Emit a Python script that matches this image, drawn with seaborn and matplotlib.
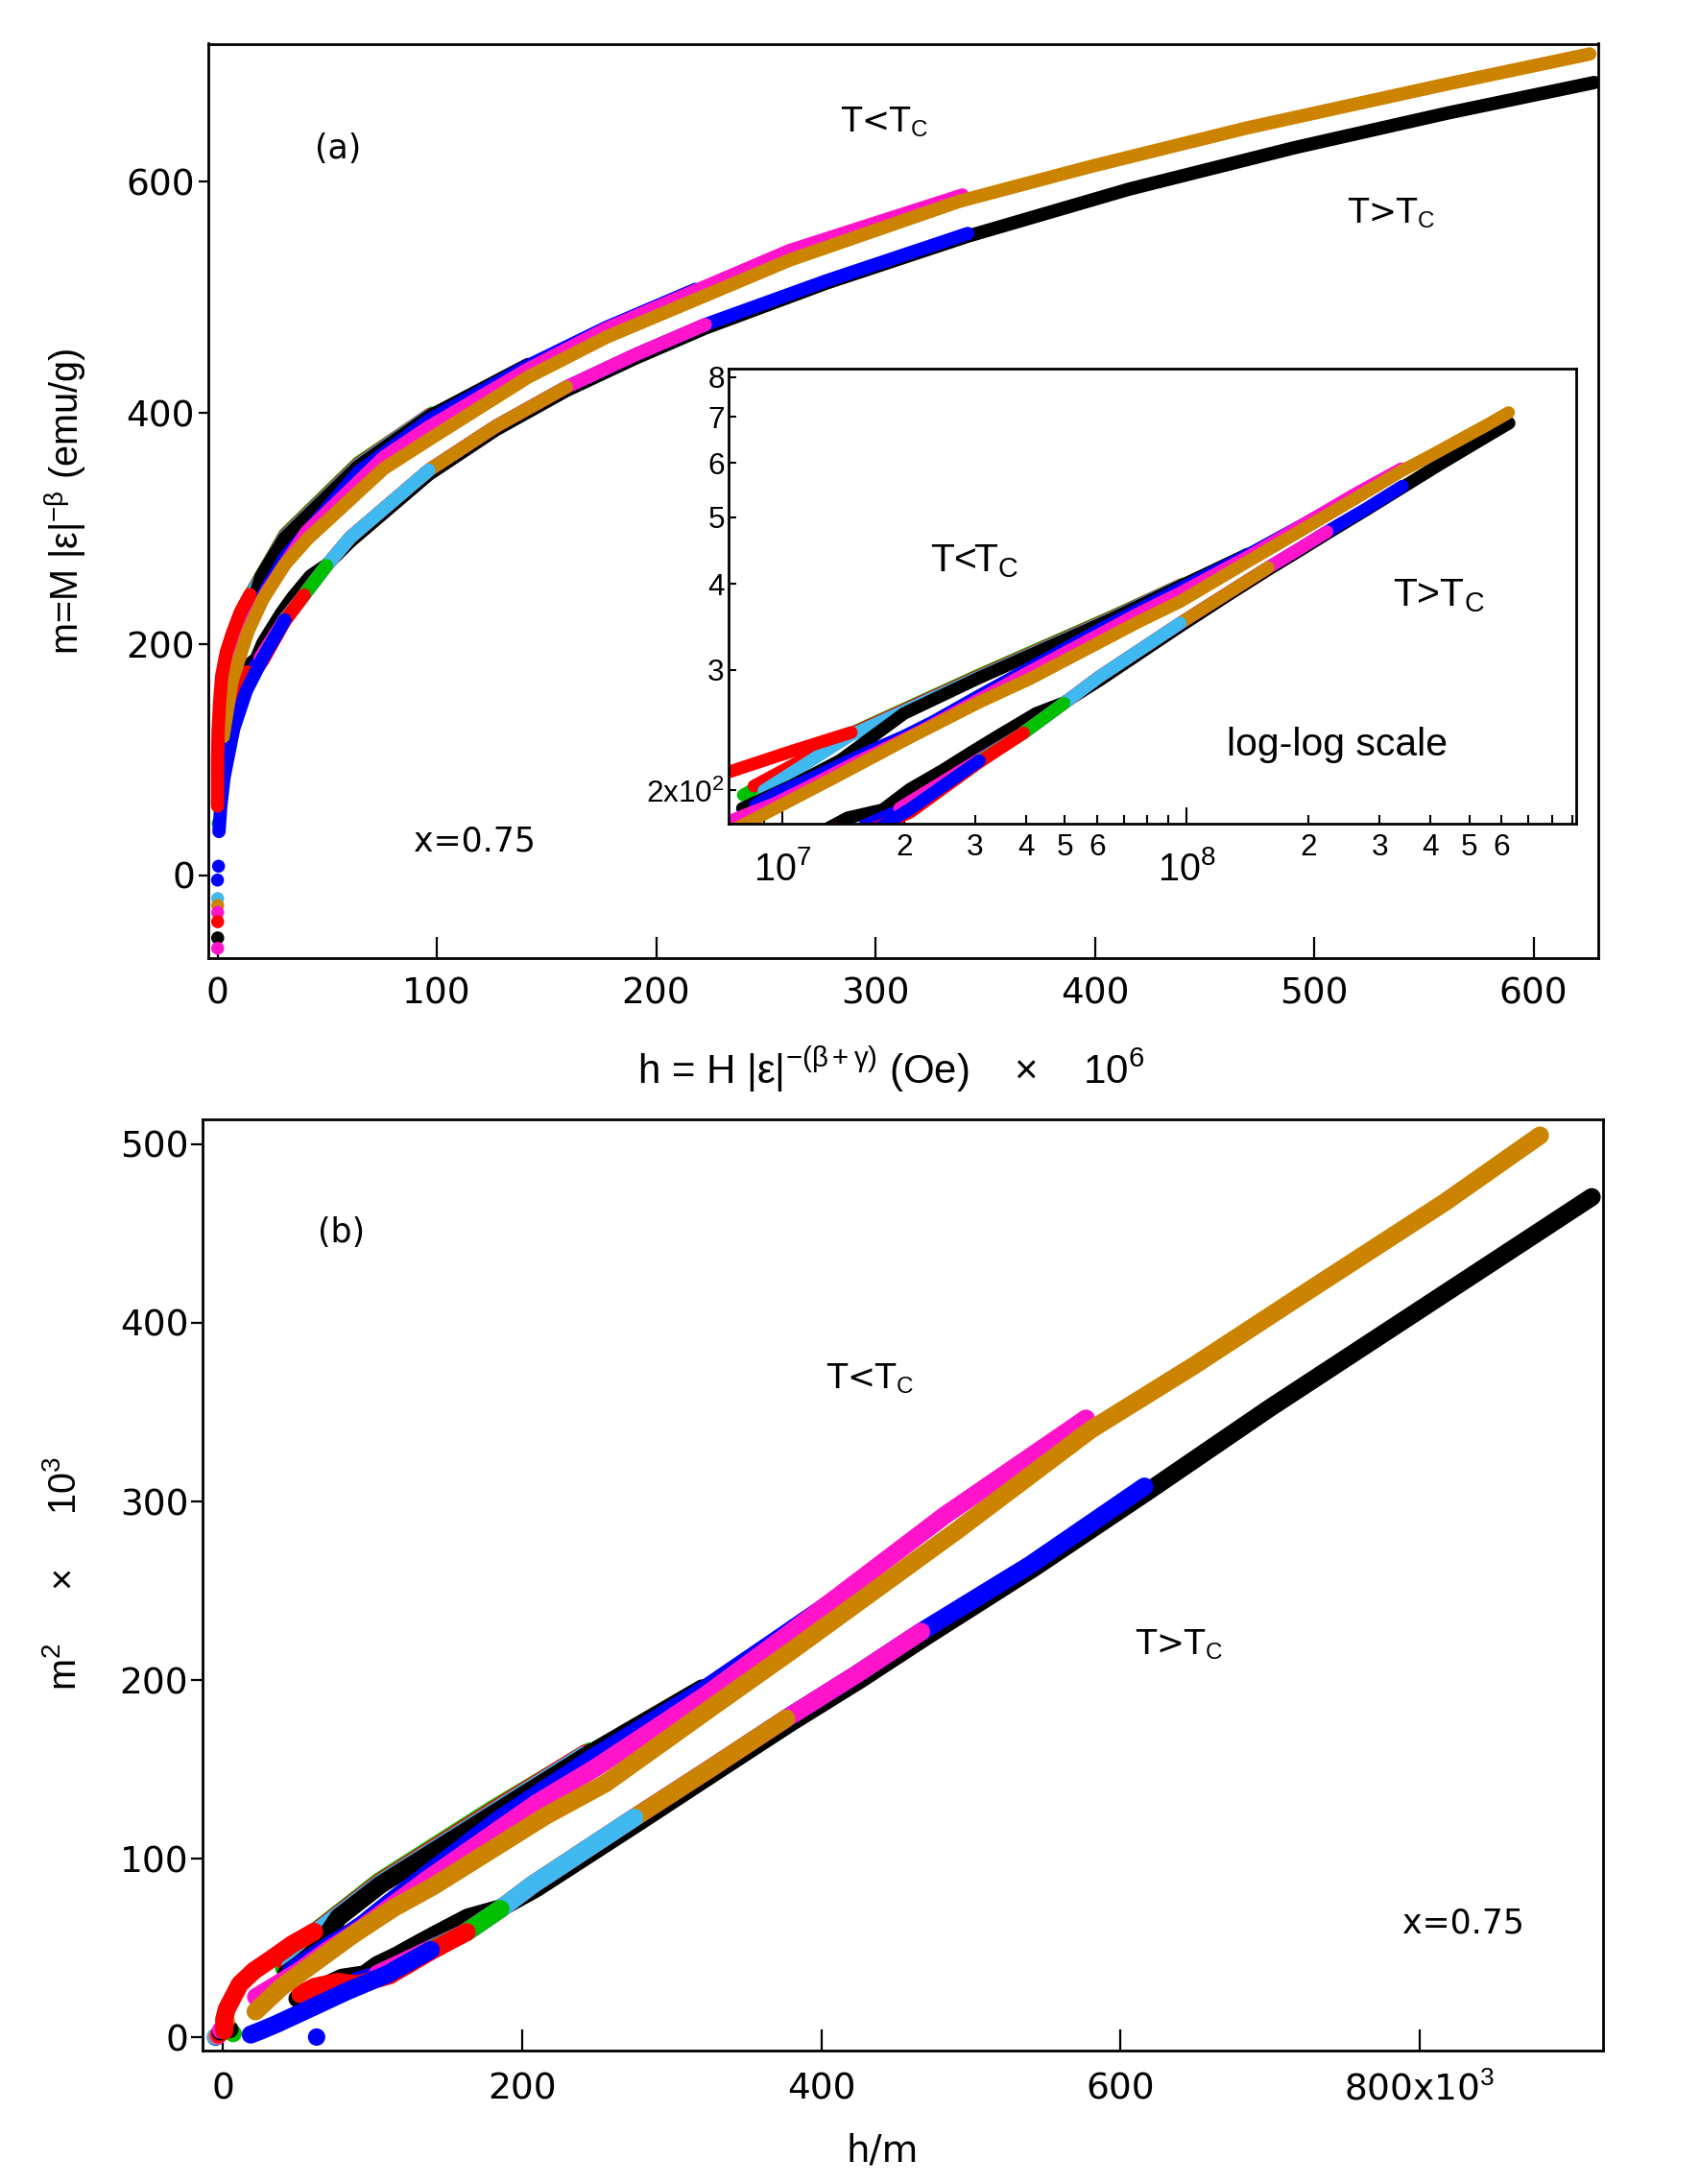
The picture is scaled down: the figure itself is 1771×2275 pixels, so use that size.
import numpy as np
import matplotlib
matplotlib.use("Agg")
import matplotlib.pyplot as plt
from matplotlib import font_manager
import seaborn as sns
from matplotlib.ticker import FixedLocator, FixedFormatter, NullLocator

# ---------------- data : h in units of 10^6 Oe, m in emu/g ----------------
# T > Tc isotherms (lower branch), in drawing order
black_L_h = [7.3, 14.5, 17.7, 20.7, 24.9, 29.2, 34.5, 42.4, 49.7, 60.6, 96.4, 126.9, 159.1, 190.6, 222.4, 277.7, 342.1, 415.5, 491.0, 560.4, 627.7]
black_L_m = [147, 182.5, 187.5, 201, 214, 227, 241, 259, 268.5, 289, 347, 385.5, 419.5, 447.5, 473.5, 512.5, 553, 593.6, 629.5, 659.3, 685.9]
blue2_L_h = [16.0, 20.7, 30.7, 39.5, 49.7, 60.6, 96.4, 126.9, 159.1, 190.6, 222.4, 277.7, 342.1]
blue2_L_m = [178, 190, 222, 242.6, 268, 292.5, 350.6, 388.5, 422.5, 450.5, 476.5, 514.4, 555.3]
magenta_L_h = [19.5, 30.7, 39.5, 49.7, 60.6, 96.4, 126.9, 159.1, 190.6, 222.4]
magenta_L_m = [188.5, 222, 242.6, 268, 292.5, 350.6, 388.5, 422.5, 450.5, 476.5]
gold_L_h = [39.5, 49.7, 60.6, 96.4, 126.9, 159.1]
gold_L_m = [243, 268, 292.5, 350.6, 388.5, 422.5]
cyan_L_h = [30.7, 39.5, 49.7, 60.6, 96.4]
cyan_L_m = [221, 242.6, 268, 292.5, 350.6]
green_L_h = [20.7, 30.7, 39.5, 49.7]
green_L_m = [188, 221, 242.6, 268]
red_L_h = [8.0, 10.3, 13.5, 15.5, 20.7, 30.7, 39.5]
red_L_m = [155, 168, 176, 172, 186, 220, 242.6]
blue1_L_h = [0.7, 1.5, 3.0, 7.4, 13.2, 20.7, 30.7]
blue1_L_m = [38, 60, 85, 127, 160, 188, 221]

# T < Tc isotherms (upper branch), in drawing order
green_U_h = [8.0, 14.7, 30.7, 64.2, 98.0]
green_U_m = [197, 242, 295, 357, 400]
red2_U_h = [8.5, 14.7, 30.7, 64.2, 96.4]
red2_U_m = [203, 241.5, 294, 356, 398.5]
cyan_U_h = [9.0, 14.7, 30.7, 64.2, 96.0]
cyan_U_m = [200, 240.5, 293, 355, 397.5]
black_U_h = [7.96, 10.5, 13.9, 20.0, 30.7, 64.2, 96.4, 141.6]
black_U_m = [188.4, 203, 221.3, 259, 292, 354, 397, 442]
blue_U_h = [8.57, 9.64, 12.1, 14.4, 16.9, 20.0, 23.6, 30.7, 64.2, 96.4, 141.6, 177.2, 218.0]
blue_U_m = [190.5, 197.7, 209.8, 220.2, 229.8, 240, 252, 275, 349, 394, 441, 474, 507]
magenta_U_h = [3.3, 9.56, 11.5, 15.3, 18.9, 22.7, 40.5, 75.9, 96.4, 141.6, 177.2, 260.9, 339.6]
magenta_U_m = [150, 191.4, 202, 220.2, 233.6, 246.5, 297, 362, 388, 438, 472.9, 540.6, 588.6]
gold_U_h = [2.6, 6.6, 13.9, 20.6, 30.7, 41.0, 75.9, 96.4, 141.6, 177.2, 260.9, 338.5, 398.0, 469.1, 558.4, 625.7]
gold_U_m = [120, 168, 211, 238.7, 269, 291, 352, 377, 431, 465.5, 532.3, 583.3, 613.2, 646.5, 683.7, 710.6]
red1_U_h = [0.05, 0.07, 0.3, 1.0, 1.93, 4.0, 6.85, 10.5, 14.8]
red1_U_m = [60, 100, 125, 150, 172.4, 193, 209.8, 228, 243]

# low-field points near h = 0
lf_h = [0.5, 0.02, 0.1, 0.1, 0.1, 0.1, 0.1, 0.1, 0.3, 0.3, 0.2]
lf_m = [8, -4, -20, -26, -32, -40, -54, -63, 45, 66, 95]
lf_c = ["blue", "blue", "cyan", "gold", "magenta", "red", "black", "magenta", "green", "black", "gold"]

# tick labels
a_xticks = [0, 100, 200, 300, 400, 500, 600]
a_yticks = [0, 200, 400, 600]
b_xticks = [0, 200, 400, 600, 800]
b_xlabels = ["0", "200", "400", "600", "800x10$^{3}$"]
b_yticks = [0, 100, 200, 300, 400, 500]
in_yticks = [200, 300, 400, 500, 600, 700, 800]
in_ylabels = ["2x10$^{2}$", "3", "4", "5", "6", "7", "8"]
in_xmajor = [1e7, 1e8]
in_xmajor_labels = ["$10^{7}$", "$10^{8}$"]
in_xminor = [8e6, 9e6] + [k * 1e7 for k in range(2, 10)] + [k * 1e8 for k in range(2, 10)]
in_xminor_labels = ["", ""] + ["2", "3", "4", "5", "6", "", "", ""] * 2

COL = {"black": "#000000", "blue": "#0000FF", "red": "#FF0000", "green": "#00C000",
       "cyan": "#40B8F0", "magenta": "#FF14CC", "gold": "#CC8400"}

series = [
    ("black", black_L_h, black_L_m), ("blue", blue2_L_h, blue2_L_m),
    ("magenta", magenta_L_h, magenta_L_m), ("gold", gold_L_h, gold_L_m),
    ("cyan", cyan_L_h, cyan_L_m), ("green", green_L_h, green_L_m),
    ("red", red_L_h, red_L_m), ("blue", blue1_L_h, blue1_L_m),
    ("green", green_U_h, green_U_m), ("red", red2_U_h, red2_U_m),
    ("cyan", cyan_U_h, cyan_U_m), ("black", black_U_h, black_U_m),
    ("blue", blue_U_h, blue_U_m), ("magenta", magenta_U_h, magenta_U_m),
    ("gold", gold_U_h, gold_U_m), ("red", red1_U_h, red1_U_m),
]

# ---------------- style ----------------
sns.set_theme(style="ticks")
plt.rcParams["font.family"] = ["DejaVu Sans"]
names = {f.name for f in font_manager.fontManager.ttflist}
if "Liberation Sans Narrow" in names:
    NARROW = ["Liberation Sans Narrow", "Liberation Sans", "DejaVu Sans"]
    MRM = "Liberation Sans Narrow"
    NF = 1.0
else:
    NARROW = ["Liberation Sans", "DejaVu Sans"]
    MRM = "Liberation Sans"
    NF = 0.84
plt.rcParams.update({
    "text.color": "black", "axes.labelcolor": "black", "axes.edgecolor": "black",
    "xtick.color": "black", "ytick.color": "black",
    "mathtext.fontset": "custom", "mathtext.rm": MRM,
    "mathtext.it": MRM + ":italic", "mathtext.bf": MRM + ":bold",
    "mathtext.sf": MRM,
})

fig = plt.figure(figsize=(17.71, 22.75), dpi=100)
axA = fig.add_axes([0.1225, 0.5613, 0.8176, 0.4187])
axB = fig.add_axes([0.1191, 0.0611, 0.8238, 0.4264])
axI = fig.add_axes([0.4286, 0.6229, 0.4986, 0.2084])
axI.set_xscale("log")
axI.set_yscale("log")


def draw(ax, xs, ys, color, lw):
    sns.lineplot(x=xs, y=ys, ax=ax, color=color, lw=lw, sort=False, estimator=None,
                 solid_capstyle="round", solid_joinstyle="round", legend=False)


for cname, h, m in series:
    h = np.asarray(h, float)
    m = np.asarray(m, float)
    c = COL[cname]
    draw(axA, h, m, c, 10.0)
    draw(axI, h * 1e6, m, c, 9.5)
    draw(axB, h * 1000.0 / m, m ** 2 / 1000.0, c, 13.5)

lf_h_a = np.asarray(lf_h, float)
lf_m_a = np.asarray(lf_m, float)
pal = {k: COL[k] for k in set(lf_c)}
sns.scatterplot(x=lf_h_a, y=lf_m_a, hue=lf_c, palette=pal, s=95, linewidth=0, ax=axA, legend=False)
sns.scatterplot(x=lf_h_a * 1000.0 / lf_m_a, y=lf_m_a ** 2 / 1000.0, hue=lf_c, palette=pal,
                s=170, linewidth=0, ax=axB, legend=False)

# ---------------- panel (a) ----------------
axA.set_xlim(-4.2, 629.5)
axA.set_ylim(-71.5, 719.5)
axA.xaxis.set_major_locator(FixedLocator(a_xticks))
axA.yaxis.set_major_locator(FixedLocator(a_yticks))
axA.tick_params(axis="x", direction="in", length=16, width=1.6, labelsize=27, pad=14)
axA.tick_params(axis="y", direction="out", length=7, width=1.6, labelsize=27, pad=3)
axA.set_xlabel("h = H |ε|$^{-(\\mathrm{β+γ})}$ (Oe)    ×    10$^{6}$", fontsize=36 * NF, family=NARROW)
axA.xaxis.label.set_va("center")
axA.xaxis.set_label_coords(0.491, -0.1218)
axA.set_ylabel("m=M |ε|$^{-\\mathrm{β}}$ (emu/g)", fontsize=34 * NF, family=NARROW)
axA.yaxis.label.set_va("center")
axA.yaxis.set_label_coords(-0.1029, 0.4997)
axA.text(0.0936, 0.8848, "(a)", transform=axA.transAxes, fontsize=25, ha="center", va="center")
axA.text(0.4862, 0.9138, "T<T$_{\\mathrm{C}}$", transform=axA.transAxes, fontsize=25, ha="center", va="center")
axA.text(0.8508, 0.8145, "T>T$_{\\mathrm{C}}$", transform=axA.transAxes, fontsize=25, ha="center", va="center")
axA.text(0.1917, 0.1281, "x=0.75", transform=axA.transAxes, fontsize=25, ha="center", va="center")

# ---------------- inset ----------------
axI.set_facecolor("white")
axI.set_xlim(7.36e6, 9.2e8)
axI.set_ylim(179, 824)
axI.xaxis.set_major_locator(FixedLocator(in_xmajor))
axI.xaxis.set_major_formatter(FixedFormatter(in_xmajor_labels))
axI.xaxis.set_minor_locator(FixedLocator(in_xminor))
axI.xaxis.set_minor_formatter(FixedFormatter(in_xminor_labels))
axI.yaxis.set_major_locator(FixedLocator(in_yticks))
axI.yaxis.set_major_formatter(FixedFormatter(in_ylabels))
axI.yaxis.set_minor_locator(NullLocator())
axI.tick_params(axis="x", which="major", direction="in", length=12, width=1.5, labelsize=34 * NF, pad=20)
axI.tick_params(axis="x", which="minor", direction="in", length=6.5, width=1.5, labelsize=27 * NF, pad=7)
axI.tick_params(axis="y", which="major", direction="in", length=5.5, width=1.5, labelsize=27 * NF, pad=3)
for lab in axI.get_xticklabels(minor=True) + axI.get_yticklabels():
    lab.set_family(NARROW)
axI.text(0.2904, 0.5768, "T<T$_{\\mathrm{C}}$", transform=axI.transAxes, fontsize=35 * NF,
         ha="center", va="center", family=NARROW)
axI.text(0.8374, 0.5004, "T>T$_{\\mathrm{C}}$", transform=axI.transAxes, fontsize=35 * NF,
         ha="center", va="center", family=NARROW)
axI.text(0.7174, 0.173, "log-log scale", transform=axI.transAxes, fontsize=35 * NF,
         ha="center", va="center", family=NARROW)

# ---------------- panel (b) ----------------
axB.set_xlim(-13.8, 922.6)
axB.set_ylim(-7.5, 514)
axB.xaxis.set_major_locator(FixedLocator(b_xticks))
axB.xaxis.set_major_formatter(FixedFormatter(b_xlabels))
axB.yaxis.set_major_locator(FixedLocator(b_yticks))
axB.tick_params(axis="x", direction="in", length=16, width=1.6, labelsize=27, pad=16)
axB.tick_params(axis="y", direction="out", length=8.5, width=1.6, labelsize=27, pad=2)
axB.set_xlabel("h/m", fontsize=28)
axB.xaxis.label.set_va("center")
axB.xaxis.set_label_coords(0.4857, -0.1082)
axB.set_ylabel("m$^{2}$     ×     10$^{3}$", fontsize=34 * NF, family=NARROW)
axB.yaxis.label.set_va("center")
axB.yaxis.set_label_coords(-0.098, 0.5124)
axB.text(0.099, 0.8787, "(b)", transform=axB.transAxes, fontsize=25, ha="center", va="center")
axB.text(0.4768, 0.7216, "T<T$_{\\mathrm{C}}$", transform=axB.transAxes, fontsize=25, ha="center", va="center")
axB.text(0.6975, 0.4361, "T>T$_{\\mathrm{C}}$", transform=axB.transAxes, fontsize=25, ha="center", va="center")
axB.text(0.9003, 0.1371, "x=0.75", transform=axB.transAxes, fontsize=25, ha="center", va="center")

for ax in (axA, axB, axI):
    for sp in ax.spines.values():
        sp.set_visible(True)
        sp.set_linewidth(2.0)
        sp.set_color("black")
    ax.tick_params(top=False, right=False)
    ax.grid(False)

fig.savefig("out.png", dpi=100, facecolor="white")
